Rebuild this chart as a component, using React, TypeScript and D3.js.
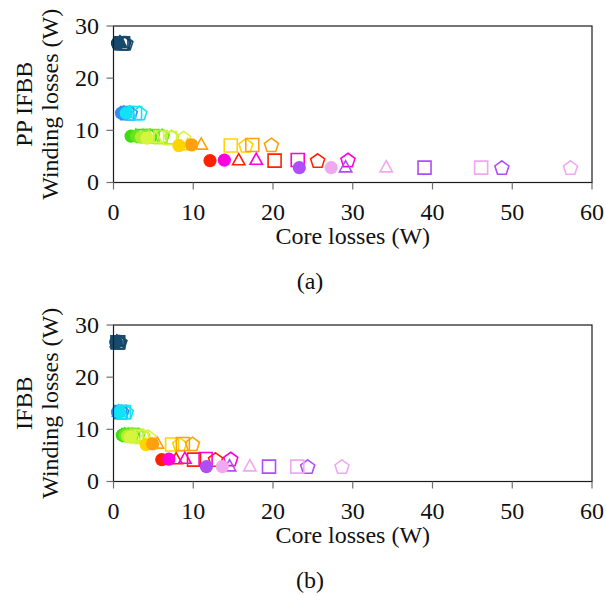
import React, { useEffect } from "react";
import * as d3 from "d3";

// Design colours, one per design family (drawn in this order)
const seriesColors = [
  "#0b3b5b", "#184a6c", "#2f8ff0", "#12e2f6",
  "#3cdc14", "#66e41e", "#b2ee2c", "#d6f53e",
  "#ffd400", "#ffa00e", "#ff2200", "#ff00dc",
  "#b04cf8", "#f0a8f0",
];

// PP IFBB: winding losses (W) per design family
const ppWinding = [26.7, 26.7, 13.3, 13.3, 8.9, 8.9, 8.7, 8.5, 7.1, 7.2, 4.2, 4.3, 2.85, 2.85];
// PP IFBB: core losses (W) for the four core variants (circle, triangle, square, pentagon)
const ppCoreCircle = [0.5, 0.6, 1.0, 1.6, 2.2, 2.9, 3.5, 4.2, 8.2, 9.8, 12.1, 13.9, 23.3, 27.3];
const ppCoreTriangle = [0.75, 0.9, 1.3, 2.0, 2.8, 3.7, 4.4, 5.3, 9.3, 11.0, 15.7, 17.9, 29.1, 34.2];
const ppCoreSquare = [1.0, 1.2, 1.7, 2.7, 3.7, 4.9, 5.9, 7.1, 14.7, 17.4, 20.2, 23.1, 39.0, 46.1];
const ppCorePentagon = [1.3, 1.55, 2.1, 3.3, 4.6, 6.1, 7.3, 8.8, 16.6, 19.8, 25.6, 29.4, 48.7, 57.3];

// IFBB: winding losses (W) per design family
const ifWinding = [26.7, 26.7, 13.3, 13.3, 8.9, 8.9, 8.7, 8.5, 7.1, 7.2, 4.2, 4.3, 2.85, 2.85];
// IFBB: core losses (W) for the four core variants
const ifCoreCircle = [0.3, 0.35, 0.5, 0.75, 1.1, 1.45, 1.75, 2.1, 4.1, 4.9, 6.05, 6.95, 11.65, 13.65];
const ifCoreTriangle = [0.4, 0.45, 0.65, 0.95, 1.4, 1.85, 2.2, 2.65, 4.65, 5.5, 7.85, 8.95, 14.55, 17.1];
const ifCoreSquare = [0.5, 0.6, 0.85, 1.3, 1.85, 2.45, 2.95, 3.55, 7.35, 8.7, 10.1, 11.55, 19.5, 23.05];
const ifCorePentagon = [0.65, 0.8, 1.05, 1.6, 2.3, 3.05, 3.65, 4.4, 8.3, 9.9, 12.8, 14.7, 24.35, 28.65];

const xTicks = [0, 10, 20, 30, 40, 50, 60];
const yTicks = [0, 10, 20, 30];

const FONT = "'Liberation Serif', 'Times New Roman', serif";
const FS = 24;

type MarkerKind = "circle" | "triangle" | "square" | "pentagon";

function markerPath(kind: MarkerKind): string {
  if (kind === "square") {
    const h = 6.5;
    return `M${-h},${-h}H${h}V${h}H${-h}Z`;
  }
  if (kind === "triangle") {
    const w = 6.2;
    return `M0,${-7}L${w},${4.2}L${-w},${4.2}Z`;
  }
  const r = 7.4;
  const pts = d3.range(5).map((i) => {
    const a = -Math.PI / 2 + (i * 2 * Math.PI) / 5;
    return [r * Math.cos(a), r * Math.sin(a) + 0.6];
  });
  return "M" + pts.map((p) => p.join(",")).join("L") + "Z";
}

interface PanelProps {
  top: number;
  winding: number[];
  cores: number[][];
  labelTop: string;
  caption: string;
}

const left = 113.5;
const right = 592;
const plotH = 156.5;

function Panel({ top, winding, cores, labelTop, caption }: PanelProps) {
  const bottom = top + plotH;
  const x = d3.scaleLinear().domain([0, 60]).range([left, right]);
  const y = d3.scaleLinear().domain([0, 30]).range([bottom, top]);
  const kinds: MarkerKind[] = ["circle", "triangle", "square", "pentagon"];
  const midY = (top + bottom) / 2;

  return (
    <g>
      {/* data markers, family by family */}
      {seriesColors.map((color, si) => (
        <g key={si}>
          {kinds.map((kind, ki) => {
            const cx = x(cores[ki][si]);
            const cy = y(winding[si]);
            if (kind === "circle") {
              return <circle key={ki} cx={cx} cy={cy} r={6.6} fill={color} />;
            }
            return (
              <path
                key={ki}
                d={markerPath(kind)}
                transform={`translate(${cx},${cy})`}
                fill="none"
                stroke={color}
                strokeWidth={1.6}
                strokeLinejoin="miter"
              />
            );
          })}
        </g>
      ))}

      {/* axis box */}
      <rect x={left} y={top} width={right - left} height={plotH} fill="none" stroke="#1a1a1a" strokeWidth={1.2} />

      {/* ticks */}
      {xTicks.map((t) => (
        <g key={"x" + t}>
          <line x1={x(t)} x2={x(t)} y1={bottom} y2={bottom + 7} stroke="#707070" strokeWidth={1.2} />
          <text x={x(t)} y={bottom + 37} textAnchor="middle" fontFamily={FONT} fontSize={FS} fill="#111">
            {t}
          </text>
        </g>
      ))}
      {yTicks.map((t) => (
        <g key={"y" + t}>
          <line x1={left - 7} x2={left} y1={y(t)} y2={y(t)} stroke="#707070" strokeWidth={1.2} />
          <text x={99} y={y(t) + 7.8} textAnchor="end" fontFamily={FONT} fontSize={FS} fill="#111">
            {t}
          </text>
        </g>
      ))}

      {/* axis titles */}
      <text x={(left + right) / 2} y={bottom + 61} textAnchor="middle" fontFamily={FONT} fontSize={FS} fill="#111">
        Core losses (W)
      </text>
      <text transform={`translate(32,${midY}) rotate(-90)`} textAnchor="middle" fontFamily={FONT} fontSize={FS} fill="#111">
        {labelTop}
      </text>
      <text transform={`translate(58,${midY}) rotate(-90)`} textAnchor="middle" fontFamily={FONT} fontSize={FS} fill="#111">
        Winding losses (W)
      </text>

      {/* caption */}
      <text x={310} y={bottom + 106} textAnchor="middle" fontFamily={FONT} fontSize={FS} fill="#111">
        {caption}
      </text>
    </g>
  );
}

export default function App() {
  useEffect(() => {
    document.body.style.margin = "0";
  }, []);

  return (
    <svg width={606} height={597} viewBox="0 0 606 597" style={{ display: "block", background: "white" }}>
      <rect width={606} height={597} fill="white" />
      <Panel
        top={26}
        winding={ppWinding}
        cores={[ppCoreCircle, ppCoreTriangle, ppCoreSquare, ppCorePentagon]}
        labelTop="PP IFBB"
        caption="(a)"
      />
      <Panel
        top={325}
        winding={ifWinding}
        cores={[ifCoreCircle, ifCoreTriangle, ifCoreSquare, ifCorePentagon]}
        labelTop="IFBB"
        caption="(b)"
      />
    </svg>
  );
}
